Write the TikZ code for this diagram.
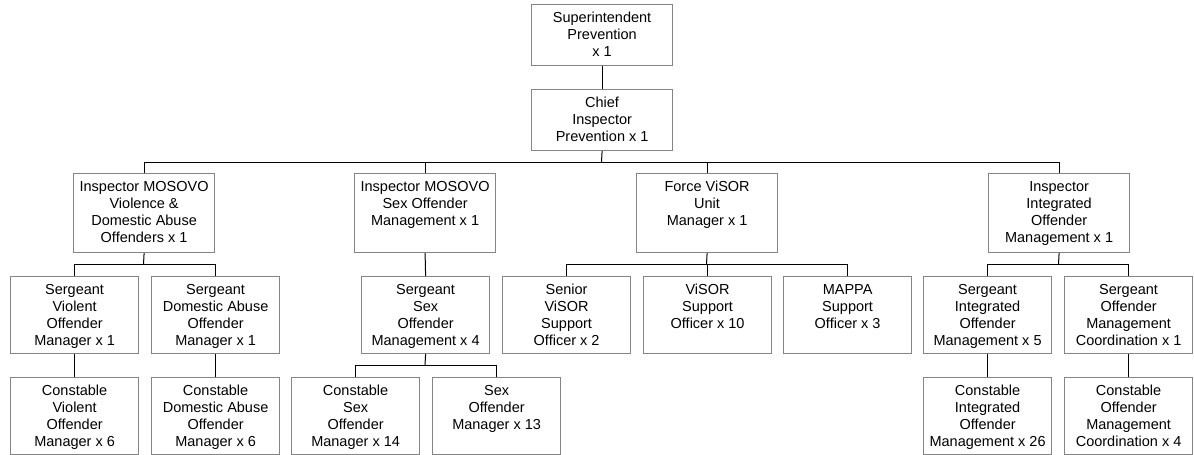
\documentclass[tikz,border=0pt]{standalone}
\usepackage{fontspec}
\setmainfont{Liberation Sans}
\newcommand{\orgbox}[6]{%
  \node[obox, anchor=north west] (#1) at (#2,#3)
    {\parbox[c][#5pt][t]{#4pt}{\centering\rule{0pt}{18pt}#6}};}
\begin{document}
\begin{tikzpicture}[x=1pt,y=-1pt,
  obox/.style={draw=black!48, line width=1.2pt, inner sep=0pt, rectangle,
    font=\fontsize{14.5}{17}\selectfont},
  link/.style={draw=black, line width=1pt}]
\useasboundingbox (0,0) rectangle (1194,455);
% level 0/1
\orgbox{sup}{531}{4}{141}{61}{Superintendent\\Prevention\\x 1}
\orgbox{chief}{531}{89}{141}{61}{Chief\\Inspector\\Prevention x 1}
% level 2
\orgbox{vda}{73}{173}{141}{79}{Inspector MOSOVO\\Violence \&\\Domestic Abuse\\Offenders x 1}
\orgbox{sexi}{354}{173}{141}{79}{Inspector MOSOVO\\Sex Offender\\Management x 1}
\orgbox{visor}{636}{173}{141}{79}{Force ViSOR\\Unit\\Manager x 1}
\orgbox{iom}{988}{173}{141}{79}{Inspector\\Integrated\\Offender\\Management x 1}
% level 3
\orgbox{sgtv}{10}{276}{128}{77}{Sergeant\\Violent\\Offender\\Manager x 1}
\orgbox{sgtda}{151}{276}{128}{77}{Sergeant\\Domestic Abuse\\Offender\\Manager x 1}
\orgbox{sgtsex}{361}{276}{128}{77}{Sergeant\\Sex\\Offender\\Management x 4}
\orgbox{senior}{502}{276}{128}{77}{Senior\\ViSOR\\Support\\Officer x 2}
\orgbox{vsup}{643}{276}{128}{77}{ViSOR\\Support\\Officer x 10}
\orgbox{mappa}{783}{276}{128}{77}{MAPPA\\Support\\Officer x 3}
\orgbox{sgtiom}{923}{276}{128}{77}{Sergeant\\Integrated\\Offender\\Management x 5}
\orgbox{sgtomc}{1064}{276}{128}{77}{Sergeant\\Offender\\Management\\Coordination x 1}
% level 4
\orgbox{conv}{10}{377}{128}{77}{Constable\\Violent\\Offender\\Manager x 6}
\orgbox{conda}{151}{377}{128}{77}{Constable\\Domestic Abuse\\Offender\\Manager x 6}
\orgbox{consex}{291}{377}{128}{77}{Constable\\Sex\\Offender\\Manager x 14}
\orgbox{sexmgr}{432}{377}{128}{77}{Sex\\Offender\\Manager x 13}
\orgbox{coniom}{923}{377}{128}{77}{Constable\\Integrated\\Offender\\Management x 26}
\orgbox{conomc}{1064}{377}{128}{77}{Constable\\Offender\\Management\\Coordination x 4}
% bus coordinates
\coordinate (b1) at (601.5,162);
\coordinate (b2) at (143.5,264);
\coordinate (b3) at (706.5,264);
\coordinate (b4) at (1058.5,264);
\coordinate (b5) at (425,365);
% connectors
\draw[link] (sup.south) -- (chief.south |- sup.south) -- (chief.north);
\draw[link] (chief.south) -- (b1);
\draw[link] (b1) -| (vda.north);
\draw[link] (b1) -| (sexi.north);
\draw[link] (b1) -| (visor.north);
\draw[link] (b1) -| (iom.north);
\draw[link] (vda.south) -- (b2);
\draw[link] (b2) -| (sgtv.north);
\draw[link] (b2) -| (sgtda.north);
\draw[link] (sexi.south) -- (sgtsex.north);
\draw[link] (visor.south) -- (b3);
\draw[link] (b3) -| (senior.north);
\draw[link] (b3) -| (vsup.north);
\draw[link] (b3) -| (mappa.north);
\draw[link] (iom.south) -- (b4);
\draw[link] (b4) -| (sgtiom.north);
\draw[link] (b4) -| (sgtomc.north);
\draw[link] (sgtsex.south) -- (b5);
\draw[link] (b5) -| (consex.north);
\draw[link] (b5) -| (sexmgr.north);
\draw[link] (sgtv.south) -- (conv.north);
\draw[link] (sgtda.south) -- (conda.north);
\draw[link] (sgtiom.south) -- (coniom.north);
\draw[link] (sgtomc.south) -- (conomc.north);
\end{tikzpicture}
\end{document}
